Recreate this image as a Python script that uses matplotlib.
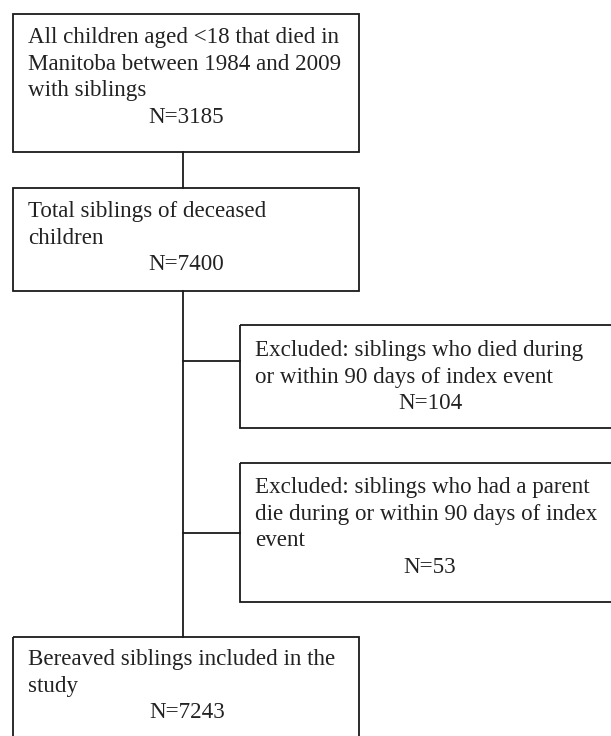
import matplotlib
matplotlib.use("Agg")
import matplotlib.pyplot as plt
from matplotlib.patches import Rectangle

# Flowchart content
box_lines = [
    ["All children aged <18 that died in", "Manitoba between 1984 and 2009", "with siblings"],
    ["Total siblings of deceased", "children"],
    ["Excluded: siblings who died during", "or within 90 days of index event"],
    ["Excluded: siblings who had a parent", "die during or within 90 days of index", "event"],
    ["Bereaved siblings included in the", "study"],
]
box_counts = [3185, 7400, 104, 53, 7243]

# Layout (pixel coordinates)
W, H = 611, 736
boxes = [  # left, top, right, bottom
    (13, 14, 359, 152),
    (13, 188, 359, 291),
    (240, 325, 625, 428),
    (240, 463, 625, 602),
    (13, 637, 359, 745),
]
first_baseline = [43, 217, 356, 493, 665]
n_center_x = [186, 186, 430, 430, 187]
line_step = 26.7
text_pad = 15

fig = plt.figure(figsize=(W / 100, H / 100), dpi=100)
ax = fig.add_axes([0, 0, 1, 1])
ax.set_xlim(0, W)
ax.set_ylim(H, 0)
ax.axis("off")

lc = "#1a1a1a"
lw = 1.3
fs = 16.6
font = "Liberation Serif"

for (l, t, r, b), lines, n, y0, cx in zip(boxes, box_lines, box_counts, first_baseline, n_center_x):
    ax.add_patch(Rectangle((l, t), r - l, b - t, fill=False, edgecolor=lc, linewidth=lw))
    for i, s in enumerate(lines):
        ax.text(l + text_pad, y0 + i * line_step, s, fontsize=fs, family=font,
                color="#222222", ha="left", va="baseline")
    ax.text(cx, y0 + len(lines) * line_step, f"N={n}", fontsize=fs, family=font,
            color="#222222", ha="center", va="baseline")

# Connectors
spine_x = 183
ax.plot([spine_x, spine_x], [boxes[0][3], boxes[1][1]], color=lc, lw=lw)
ax.plot([spine_x, spine_x], [boxes[1][3], boxes[4][1]], color=lc, lw=lw)
for bi, yc in [(2, 361), (3, 533)]:
    ax.plot([spine_x, boxes[bi][0]], [yc, yc], color=lc, lw=lw)

fig.savefig("out.png", dpi=100, facecolor="white")
